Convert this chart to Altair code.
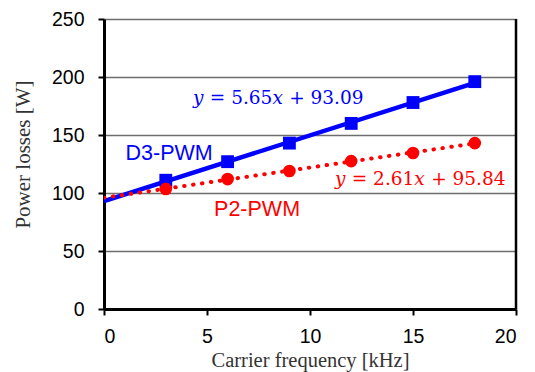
import altair as alt
import pandas as pd

freq = [3, 6, 9, 12, 15, 18]
d3_pwm = [111, 127, 143, 160, 178, 196]
p2_pwm = [103.5, 112, 119, 127.5, 134.5, 143]

label_text = ["D3-PWM", "P2-PWM"]
label_x = [3.16, 7.43]
label_y = [133.6, 85.3]
label_col = ["#0000FF", "#FF0000"]

# equation pieces: italic variable, text, italic variable, text
eq_parts = [["y", "= 5.65", "x", "+ 93.09"], ["y", "= 2.61", "x", "+ 95.84"]]
eq_x = [4.32, 11.21]
eq_y = [181.9, 112.0]

# styling of the equation pieces (pixel offsets from the equation's left edge)
EQ_FONT = "DejaVu Serif"
EQ_SIZE = 18.5
part_dx = [0, 16.8, 79.4, 96.2]
part_italic = [True, False, True, False]

SERIF = "Liberation Serif, Times New Roman, serif"
SANS = "Liberation Sans, Arial, sans-serif"

df = pd.DataFrame({
    "x": freq * 2,
    "y": d3_pwm + p2_pwm,
    "s": ["D3"] * 6 + ["P2"] * 6,
})
lab = pd.DataFrame({"t": label_text, "x": label_x, "y": label_y, "c": label_col})

xs = alt.Scale(domain=[0, 20], nice=False)
ys = alt.Scale(domain=[0, 250], nice=False)

xaxis = alt.Axis(values=[0, 5, 10, 15, 20], title="Carrier frequency [kHz]", grid=False,
                 domainColor="black", domainWidth=3, tickColor="black", tickWidth=2, tickSize=6,
                 labelFont=SANS, labelFontSize=19.5, labelColor="black", labelPadding=12,
                 titleFont=SERIF, titleFontSize=20.5, titleFontWeight="normal",
                 titleColor="#333333", titleBaseline="top", titleY=41)
yaxis = alt.Axis(values=[0, 50, 100, 150, 200, 250], title="Power losses [W]", grid=True,
                 gridColor="#6e6e6e", gridWidth=1.6,
                 domainColor="black", domainWidth=3, tickColor="black", tickWidth=2, tickSize=6,
                 labelFont=SANS, labelFontSize=19.5, labelColor="black", labelPadding=14,
                 titleFont=SERIF, titleFontSize=21, titleFontWeight="normal",
                 titleColor="#333333", titleX=-81, titleY=135, titleAngle=-90, titleBaseline="middle")

base = alt.Chart(df)

d3 = base.transform_filter(alt.datum.s == "D3")
p2 = base.transform_filter(alt.datum.s == "P2")

d3_line = d3.transform_regression("x", "y", extent=[0, 18]).mark_line(
    color="#0000FF", strokeWidth=4.5, clip=True
).encode(x=alt.X("x:Q", scale=xs, axis=xaxis), y=alt.Y("y:Q", scale=ys, axis=yaxis))

p2_line = p2.transform_regression("x", "y", extent=[0, 18]).mark_line(
    color="#FF0000", strokeWidth=4, strokeDash=[0.5, 8.5], strokeCap="round", clip=True
).encode(x=alt.X("x:Q", scale=xs), y=alt.Y("y:Q", scale=ys))

d3_pts = d3.mark_point(shape="square", filled=True, size=165, opacity=1, color="#0000FF").encode(
    x=alt.X("x:Q", scale=xs), y=alt.Y("y:Q", scale=ys))
p2_pts = p2.mark_point(shape="circle", filled=True, size=160, opacity=1, color="#FF0000").encode(
    x=alt.X("x:Q", scale=xs), y=alt.Y("y:Q", scale=ys))

right_border = alt.Chart(pd.DataFrame({"x": [20]})).mark_rule(color="black", strokeWidth=2.5).encode(
    x=alt.X("x:Q", scale=xs))

labels = alt.Chart(lab).mark_text(font=SANS, fontSize=21.5, align="center", baseline="middle").encode(
    x=alt.X("x:Q", scale=xs), y=alt.Y("y:Q", scale=ys), text="t:N", color=alt.Color("c:N", scale=None))

eq_layers = []
for i in range(len(eq_parts)):
    for j, part in enumerate(eq_parts[i]):
        d = pd.DataFrame({"t": [part], "x": [eq_x[i]], "y": [eq_y[i]]})
        kw = dict(font=EQ_FONT, fontSize=EQ_SIZE, align="left", baseline="middle",
                  dx=part_dx[j], color=label_col[i])
        if part_italic[j]:
            kw["fontStyle"] = "italic"
        eq_layers.append(alt.Chart(d).mark_text(**kw).encode(
            x=alt.X("x:Q", scale=xs), y=alt.Y("y:Q", scale=ys), text="t:N"))

chart = alt.layer(d3_line, p2_line, d3_pts, p2_pts, right_border, labels, *eq_layers).properties(
    width=412, height=290,
    autosize=alt.AutoSizeParams(type="none"),
    padding={"left": 104, "top": 19, "right": 19, "bottom": 63},
    background="white",
).configure_view(stroke=None)

chart.save("out.html", embed_options={"renderer": "svg", "actions": False})
